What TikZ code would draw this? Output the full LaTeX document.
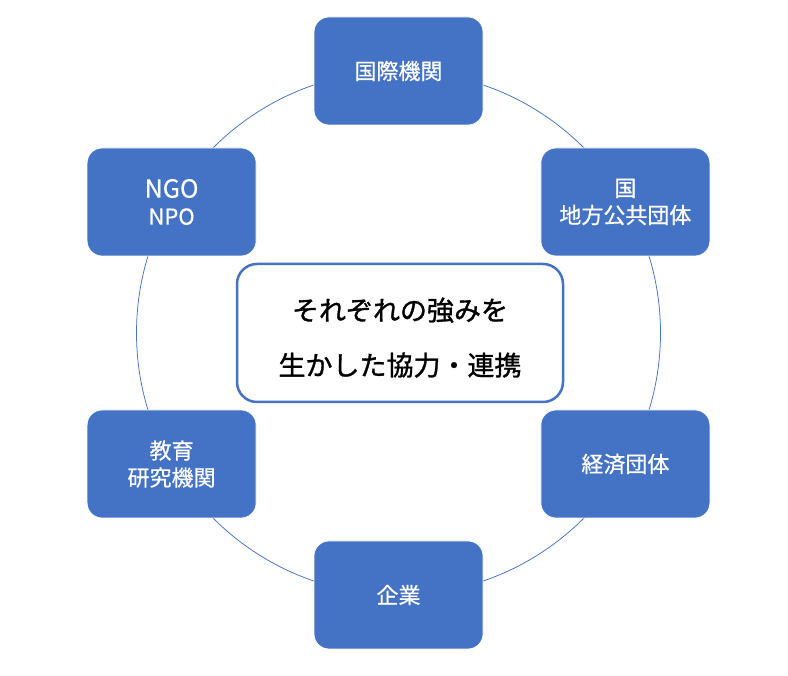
\documentclass[tikz,border=0pt]{standalone}
\usepackage{fontspec}
\setmainfont{Noto Sans CJK JP}[FakeBold=0.6]
\newfontfamily\corefont{Noto Sans CJK JP}[FakeBold=1.2]
\usepackage{xcolor}
\usetikzlibrary{calc}
\definecolor{boxblue}{RGB}{68,114,196}

\begin{document}
\begin{tikzpicture}[x=1pt,y=1pt,
    orgbox/.style={fill=boxblue, draw=white, line width=0.75, rounded corners=15,
        minimum width=169, minimum height=108, text=white, align=center,
        font=\fontsize{22}{27}\selectfont, inner sep=0.75pt},
    corebox/.style={fill=white, draw=boxblue, line width=2.5, rounded corners=20,
        minimum width=326, minimum height=138, align=center,
        font=\corefont\fontsize{27}{55}\selectfont, inner sep=0.75pt}]
    \useasboundingbox (0,0) rectangle (788,676);
    \fill[white] (0,0) rectangle (788,676);
    \coordinate (c) at (398.5,343);

    %Shape: Circle
    \draw [color=boxblue, line width=0.75] (c) circle (262);

    %Shape: Rounded Rectangles around the circle
    \node [orgbox] (intl) at ($(c)+(90:262)$) {国際機関};
    \node [orgbox] (gov) at ($(c)+(30:262)$) {国\\地方公共団体};
    \node [orgbox] (econ) at ($(c)+(-30:262)$) {経済団体};
    \node [orgbox] (firm) at ($(c)+(-90:262)$) {企業};
    \node [orgbox] (edu) at ($(c)+(210:262)$) {教育\\研究機関};
    \node [orgbox] (ngo) at ($(c)+(150:262)$) {\fontsize{25}{27}\selectfont NGO\\NPO};

    % Text Node
    \node [corebox] (core) at (400,343) {\rule{0pt}{32pt}それぞれの強みを\\生かした協力・連携};
\end{tikzpicture}
\end{document}
